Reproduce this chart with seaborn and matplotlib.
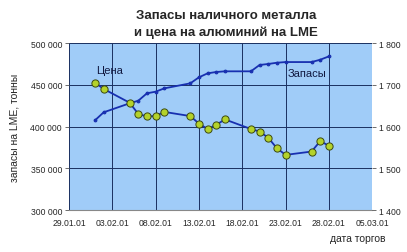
import matplotlib
matplotlib.use("Agg")
import matplotlib.pyplot as plt
import matplotlib.dates as mdates
import seaborn as sns
import pandas as pd
import numpy as np

dates = ["2001-02-01", "2001-02-02", "2001-02-05", "2001-02-06", "2001-02-07", "2001-02-08",
         "2001-02-09", "2001-02-12", "2001-02-13", "2001-02-14", "2001-02-15", "2001-02-16",
         "2001-02-19", "2001-02-20", "2001-02-21", "2001-02-22", "2001-02-23", "2001-02-26",
         "2001-02-27", "2001-02-28"]
stocks = [407400, 417000, 427800, 430900, 439800, 441700, 445700, 451700, 458900, 463700,
          465300, 466100, 466100, 473700, 474900, 476400, 477200, 477200, 480000, 484000]
price = [1705, 1690, 1657, 1630, 1624, 1625, 1635, 1625, 1607, 1594, 1604, 1617,
         1594, 1588, 1573, 1548, 1532, 1540, 1565, 1554]
xtick_dates = ["2001-01-29", "2001-02-03", "2001-02-08", "2001-02-13", "2001-02-18",
               "2001-02-23", "2001-02-28", "2001-03-05"]
left_ticks = [300000, 350000, 400000, 450000, 500000]
right_ticks = [1400, 1500, 1600, 1700, 1800]

df = pd.DataFrame({"date": pd.to_datetime(dates), "stocks": stocks, "price": price})

sns.set_style("white")
plt.rcParams["font.family"] = ["Liberation Sans", "DejaVu Sans"]

fig = plt.figure(figsize=(4.07, 2.53), dpi=100)
ax = fig.add_axes([0.1695, 0.166, 0.745, 0.66])
ax.set_facecolor("#A0CCF8")
ax2 = ax.twinx()

line_col = "#1830B0"
sns.lineplot(data=df, x="date", y="stocks", ax=ax, color=line_col, lw=1.3,
             marker="o", markersize=2, markeredgecolor=line_col, zorder=3)
sns.lineplot(data=df, x="date", y="price", ax=ax2, color=line_col, lw=1.3,
             marker="o", markersize=5.2, markerfacecolor="#B4D22A",
             markeredgecolor="#3C4A10", markeredgewidth=0.7, zorder=3)

xt = pd.to_datetime(xtick_dates)
ax.set_xlim(xt[0], xt[-1])
ax.set_xticks(xt)
ax.xaxis.set_major_formatter(mdates.DateFormatter("%d.%m.%y"))
ax.set_ylim(300000, 500000)
ax.set_yticks(left_ticks)
ax.set_yticklabels([f"{v:,}".replace(",", " ") for v in left_ticks])
ax2.set_ylim(1400, 1800)
ax2.set_yticks(right_ticks)
ax2.set_yticklabels([f"{v:,}".replace(",", " ") for v in right_ticks])

ax.grid(True, color="#1A3060", lw=0.7)
ax.set_axisbelow(True)
for a in (ax, ax2):
    for s in a.spines.values():
        s.set_visible(False)
    a.tick_params(labelsize=6.2, length=3, width=0.6, color="#555555", pad=2)
ax.spines["bottom"].set_visible(True)
ax.spines["bottom"].set_color("#888888")
ax.tick_params(axis="x", pad=3)
ax.set_xlabel("")
ax2.set_xlabel("")
ax2.set_ylabel("")
ax.set_ylabel("запасы на LME, тонны", fontsize=7.5, labelpad=8)

ax.text(0.09, 0.82, "Цена", transform=ax.transAxes, fontsize=8, color="#101840")
ax.text(0.72, 0.8, "Запасы", transform=ax.transAxes, fontsize=8, color="#101840")
fig.text(0.88, 0.045, "дата торгов", fontsize=7.5, ha="center")
fig.text(0.555, 0.935, "Запасы наличного металла", fontsize=9.5, weight="bold", ha="center", va="center")
fig.text(0.555, 0.87, "и цена на алюминий на LME", fontsize=9.5, weight="bold", ha="center", va="center")

fig.savefig("out.png", dpi=100)
